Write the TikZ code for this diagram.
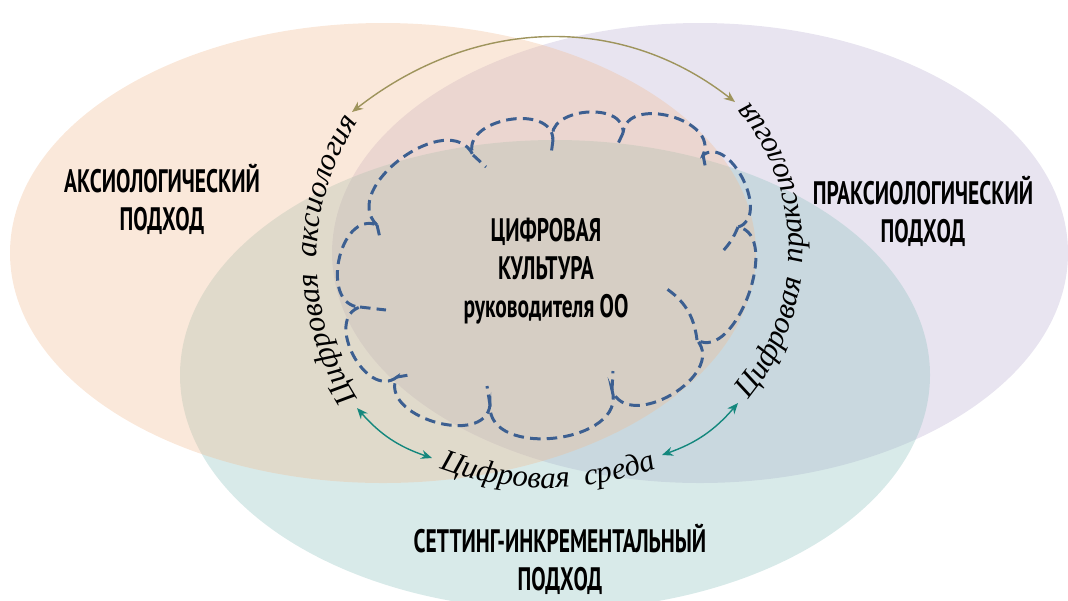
\documentclass[tikz,border=0pt]{standalone}
\usepackage{fontspec}
\setmainfont{Liberation Serif}
\newfontfamily\headfont[FakeStretch=0.66]{PT Sans}
\usetikzlibrary{decorations.text,arrows.meta}

\definecolor{peach}{RGB}{241,189,149}
\definecolor{lilac}{RGB}{189,178,212}
\definecolor{sea}{RGB}{144,195,192}
\definecolor{cloudblue}{RGB}{60,95,145}
\definecolor{arrowolive}{RGB}{158,148,92}
\definecolor{arrowteal}{RGB}{20,135,125}

\newcommand\arcfont{\itshape\fontsize{17.5}{20}\selectfont}

\tikzset{
	approach/.style={fill opacity=0.35},
	heading/.style={font=\headfont\bfseries\fontsize{18.5}{21.6}\selectfont,align=center,inner sep=0},
	cloudline/.style={draw=cloudblue,line width=1.7pt,dash pattern=on 6pt off 3.5pt},
	bump/.style={bend left=100,looseness=#1},
	link/.style={line width=0.8pt,{Stealth[length=2.2mm,width=1.8mm]}-{Stealth[length=2.2mm,width=1.8mm]}},
	arctext/.style={decorate,decoration={text along path,text align=center,text={#1}}}
}

\begin{document}
\begin{tikzpicture}[x=0.02cm,y=0.02cm]
	\useasboundingbox (0,0) rectangle (1068,-600);
	\clip (0,0) rectangle (1068,-600);
	% three approaches
	\fill[lilac,approach] (700,-253) ellipse[x radius=368,y radius=230];
	\fill[sea,approach] (555,-375) ellipse[x radius=375,y radius=235];
	\fill[peach,approach] (383,-253) ellipse[x radius=373,y radius=230];

	% cloud
	\coordinate (j0) at (377,-225);
	\coordinate (j1) at (473,-155);
	\coordinate (j2) at (553,-140);
	\coordinate (j3) at (623,-133);
	\coordinate (j4) at (703,-155);
	\coordinate (j5) at (738,-227);
	\coordinate (j6) at (697,-340);
	\coordinate (j7) at (612,-390);
	\coordinate (j8) at (490,-405);
	\coordinate (j9) at (397,-377);
	\coordinate (j10) at (360,-307);
	\draw[cloudline] (j0) to[bump=1.15] (j1)
		to[bump=1.2] (j2)
		to[bump=1.2] (j3)
		to[bump=1.2] (j4)
		to[bump=1.1] (j5)
		to[bump=0.95] (j6)
		to[bump=1.2] (j7)
		to[bump=1.15] (j8)
		to[bump=1.15] (j9)
		to[bump=1.25] (j10)
		to[bump=1.25] (j0);
	\draw[cloudline] (j0) -- +(3,-13) (j1) -- +(13,-12) (j2) -- +(-2,-15)
		(j3) -- +(-7,-15) (j4) -- +(3,-15) (j5) to[bend left=10] +(-16,-25)
		(j6) to[bend right=25] (664,-287) (j7) -- +(1,19) (j8) -- +(-3,19)
		(j9) -- +(12,2) (j10) -- +(26,-3);

	% labels
	\node[heading] (axio) at (162,-199) {АКСИОЛОГИЧЕСКИЙ\\ПОДХОД};
	\node[heading] (praxio) at (923,-211) {ПРАКСИОЛОГИЧЕСКИЙ\\ПОДХОД};
	\node[heading] (culture) at (546,-271) {ЦИФРОВАЯ\\КУЛЬТУРА\\руководителя ОО};
	\node[heading] (setting) at (560,-559) {СЕТТИНГ-ИНКРЕМЕНТАЛЬНЫЙ\\ПОДХОД};

	% digital rings
	\path[arctext={|\arcfont|Цифровая{\hspace{0.5em}}аксиология}]
		(572,-260) ++(218:255) arc[start angle=218,end angle=142,radius=255];
	\path[arctext={|\arcfont|Цифровая{\hspace{0.5em}}праксиология}]
		(571,-250) ++(-47:232) arc[start angle=-47,end angle=47,radius=232];
	\path[arctext={|\arcfont|Цифровая{\hspace{0.5em}}среда}]
		(548,-184) ++(245:304) arc[start angle=245,end angle=295,radius=304];

	\coordinate (axTip) at (352,-112);
	\coordinate (prTip) at (735,-102);
	\coordinate (axLow) at (357,-408);
	\coordinate (srLeft) at (432,-458);
	\coordinate (srRight) at (662,-455);
	\coordinate (prLow) at (738,-403);
	\draw[link,arrowolive] (axTip) to[out=38,in=142] (prTip);
	\draw[link,arrowteal] (axLow) to[bend right=15] (srLeft);
	\draw[link,arrowteal] (srRight) to[bend right=15] (prLow);
\end{tikzpicture}
\end{document}
